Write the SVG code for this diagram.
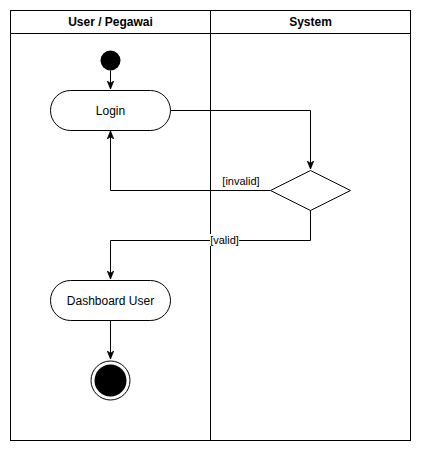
<svg xmlns="http://www.w3.org/2000/svg" width="421" height="452" viewBox="0 0 421 452">
<defs>
<style>
.ln{fill:none;stroke:#000;stroke-width:1}
.nd{fill:#fff;stroke:#000;stroke-width:1}
.t{font-family:"Liberation Sans",Arial,sans-serif;font-size:12px;fill:#000;text-anchor:middle}
.h{font-weight:bold}
.lb{font-family:"Liberation Sans",Arial,sans-serif;font-size:11px;fill:#000;text-anchor:middle}
</style>
<marker id="ar" viewBox="0 0 10 10" refX="10" refY="5" markerWidth="8" markerHeight="8" markerUnits="userSpaceOnUse" orient="auto">
<path d="M0,1 L10,5 L0,9 L3,5 Z" fill="#000" stroke="#000" stroke-width="1"/>
</marker>
</defs>
<rect width="421" height="452" fill="#fff"/>
<g id="lanes">
<rect x="10.5" y="10.5" width="400" height="430" class="nd"/>
<line x1="10.5" y1="33.5" x2="410.5" y2="33.5" class="ln"/>
<line x1="210.5" y1="10.5" x2="210.5" y2="440.5" class="ln"/>
<text x="110.5" y="26" class="t h">User / Pegawai</text>
<text x="310.5" y="26" class="t h">System</text>
</g>
<g id="edges">
<path d="M110.5 70.5 V89" class="ln" marker-end="url(#ar)"/>
<path d="M170.5 110.5 H310.5 V169" class="ln" marker-end="url(#ar)"/>
<path d="M270.5 190.5 H110.5 V131" class="ln" marker-end="url(#ar)"/>
<path d="M310.5 210.5 V240.5 H110.5 V279" class="ln" marker-end="url(#ar)"/>
<path d="M110.5 320.5 V359" class="ln" marker-end="url(#ar)"/>
<text x="241" y="185" class="lb">[invalid]</text>
<rect x="210" y="234" width="29" height="12" fill="#fff"/>
<text x="224.5" y="244" class="lb">[valid]</text>
</g>
<g id="start"><circle cx="110.5" cy="60.5" r="10" fill="#000"/></g>
<g id="login"><rect x="50.5" y="90.5" width="120" height="40" rx="20" class="nd"/><text x="110.5" y="114.5" class="t">Login</text></g>
<g id="decision"><path d="M310.5 170.5 L350.5 190.5 L310.5 210.5 L270.5 190.5 Z" class="nd"/></g>
<g id="dashboard"><rect x="50.5" y="280.5" width="120" height="40" rx="20" class="nd"/><text x="110.5" y="304.5" class="t">Dashboard User</text></g>
<g id="end"><circle cx="110.5" cy="380.5" r="19.5" class="nd"/><circle cx="110.5" cy="380.5" r="16" fill="#000"/></g>
</svg>
